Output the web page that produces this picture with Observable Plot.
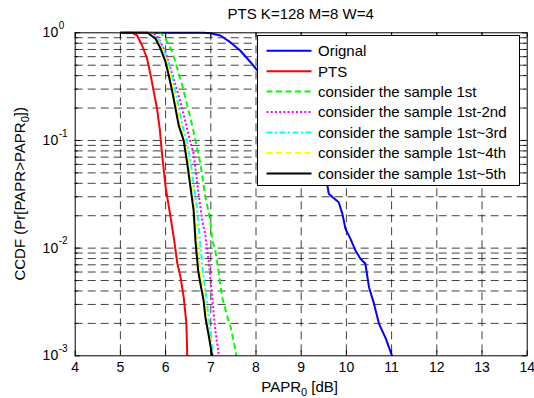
<!DOCTYPE html>
<html>
<head>
<meta charset="utf-8">
<script src="https://cdn.jsdelivr.net/npm/d3@7"></script>
<script src="https://cdn.jsdelivr.net/npm/@observablehq/plot@0.6"></script>
<style>
  html, body { margin: 0; padding: 0; background: #fff; }
  #chart { width: 534px; height: 398px; }
</style>
</head>
<body>
<div id="chart"></div>
<script>
// ---- data ----
const titleText = "PTS K=128 M=8 W=4";
const xTicks = [4, 5, 6, 7, 8, 9, 10, 11, 12, 13, 14];
const xGrid = [5, 6, 7, 8, 9, 10, 11, 12, 13];
const yMajor = [0.001, 0.01, 0.1, 1];
const yExponents = ["-3", "-2", "-1", "0"];
const yMinor = [0.002,0.003,0.004,0.005,0.006,0.007,0.008,0.009,
                0.02,0.03,0.04,0.05,0.06,0.07,0.08,0.09,
                0.2,0.3,0.4,0.5,0.6,0.7,0.8,0.9];

const seriesNames = ["Orignal", "PTS", "consider the sample 1st", "consider the sample 1st-2nd",
  "consider the sample 1st~3rd", "consider the sample 1st~4th", "consider the sample 1st~5th"];
const seriesColors = ["#0000ff", "#ff0000", "#00ff00", "#ff00ff", "#00ffff", "#ffff00", "#000000"];
const seriesDash = [null, null, "6,3.5", "2,2.2", "6,2.5,2,2.5", "6,3.5", null];

const origX = [5, 6.84, 6.99, 7.21, 7.43, 7.65, 7.88, 8.03, 8.35, 8.75, 9.2, 9.58, 9.61, 9.69, 9.83, 9.91, 9.98, 10.09, 10.20, 10.31, 10.42, 10.50, 10.61, 10.72, 10.87, 11.01];
const origY = [1, 1, 0.989, 0.944, 0.818, 0.685, 0.533, 0.447, 0.3, 0.17, 0.08, 0.0382, 0.032, 0.0298, 0.0267, 0.0209, 0.0151, 0.0122, 0.00952, 0.00798, 0.00716, 0.00434, 0.00305, 0.00199, 0.00145, 0.001];

const ptsX = [5, 5.26, 5.37, 5.48, 5.59, 5.67, 5.74, 5.81, 5.87, 5.92, 6.00, 6.11, 6.19, 6.26, 6.33, 6.40, 6.46, 6.48];
const ptsY = [1, 1, 0.944, 0.762, 0.577, 0.402, 0.281, 0.198, 0.129, 0.0757, 0.0368, 0.0194, 0.0118, 0.0072, 0.00538, 0.00351, 0.002, 0.001];

const s1X = [5, 5.89, 6.00, 6.15, 6.26, 6.37, 6.48, 6.59, 6.66, 6.77, 6.88, 6.99, 7.03, 7.10, 7.18, 7.25, 7.39, 7.44, 7.57];
const s1Y = [1, 1, 0.88, 0.661, 0.463, 0.324, 0.211, 0.138, 0.1, 0.0608, 0.0298, 0.0181, 0.0118, 0.00952, 0.00578, 0.00351, 0.00213, 0.00185, 0.001];

const s2X = [5, 5.67, 5.81, 6.00, 6.11, 6.22, 6.33, 6.44, 6.51, 6.62, 6.71, 6.81, 6.88, 6.96, 7.03, 7.10, 7.18];
const s2Y = [1, 1, 0.944, 0.661, 0.463, 0.324, 0.227, 0.148, 0.111, 0.0753, 0.0368, 0.0181, 0.0131, 0.0072, 0.00351, 0.00172, 0.001];

const sY = [1, 1, 0.88, 0.71, 0.533, 0.401, 0.281, 0.197, 0.138, 0.1, 0.0608, 0.0368, 0.0224, 0.0118, 0.0062, 0.00467, 0.00327, 0.00229, 0.00149, 0.001];
const s3X = [5, 5.63, 5.83, 5.95, 6.06, 6.14, 6.22, 6.30, 6.37, 6.47, 6.56, 6.63, 6.70, 6.76, 6.82, 6.86, 6.91, 6.95, 7.00, 7.05];
const s4X = [5, 5.61, 5.80, 5.92, 6.03, 6.10, 6.18, 6.25, 6.32, 6.43, 6.51, 6.58, 6.65, 6.70, 6.76, 6.81, 6.87, 6.91, 6.98, 7.03];
const s5X = [5, 5.60, 5.78, 5.89, 6.00, 6.07, 6.15, 6.22, 6.29, 6.40, 6.48, 6.55, 6.62, 6.66, 6.72, 6.77, 6.84, 6.88, 6.96, 7.03];

const seriesX = [origX, ptsX, s1X, s2X, s3X, s4X, s5X];
const seriesY = [origY, ptsY, s1Y, s2Y, sY, sY, sY];

// ---- layout ----
const W = 534, H = 398;
const mL = 74.7, mR = 7.3, mT = 32.3, mB = 42.7;
const innerW = W - mL - mR, innerH = H - mT - mB;
const FONT = "'Liberation Sans', Arial, Helvetica, sans-serif";

const lineMarks = seriesX.map((xs, i) =>
  Plot.line(xs.map((x, j) => ({x, y: seriesY[i][j]})), {
    x: "x", y: "y", stroke: seriesColors[i], strokeWidth: 2,
    strokeDasharray: seriesDash[i] || undefined, strokeLinejoin: "round", strokeLinecap: "butt"
  })
);

const gridStyle = {stroke: "#000", strokeWidth: 1, strokeOpacity: 0.75, strokeDasharray: "8,5"};

const chart = Plot.plot({
  width: W, height: H,
  marginLeft: mL, marginRight: mR, marginTop: mT, marginBottom: mB,
  style: {fontFamily: FONT, background: "#fff", overflow: "visible"},
  x: {domain: [4, 14]},
  y: {type: "log", domain: [0.001, 1]},
  axis: null,
  marks: [
    Plot.ruleX(xGrid, {x: d => d, ...gridStyle}),
    Plot.ruleY(yMinor.concat([0.01, 0.1]), {y: d => d, ...gridStyle}),
    ...lineMarks,
    Plot.frame({stroke: "#000", strokeWidth: 1}),
    // inward ticks, all four sides
    Plot.ruleX(xTicks, {x: d => d, insetTop: innerH - 5, stroke: "#000"}),
    Plot.ruleX(xTicks, {x: d => d, insetBottom: innerH - 5, stroke: "#000"}),
    Plot.ruleY(yMajor, {y: d => d, insetRight: innerW - 5, stroke: "#000"}),
    Plot.ruleY(yMajor, {y: d => d, insetLeft: innerW - 5, stroke: "#000"}),
    Plot.ruleY(yMinor, {y: d => d, insetRight: innerW - 3, stroke: "#000"}),
    Plot.ruleY(yMinor, {y: d => d, insetLeft: innerW - 3, stroke: "#000"}),
    // tick labels
    Plot.text(xTicks, {x: d => d, text: d => String(d), frameAnchor: "bottom", dy: 12,
      fontSize: 14, fill: "#000", lineAnchor: "middle"}),
    Plot.text(yMajor, {y: d => d, text: () => "10", frameAnchor: "left", dx: -17,
      textAnchor: "end", fontSize: 14, fill: "#000", lineAnchor: "middle"}),
    Plot.text(yMajor, {y: d => d, text: (d, i) => yExponents[i], frameAnchor: "left", dx: -16.5, dy: -7,
      textAnchor: "start", fontSize: 10, fill: "#000", lineAnchor: "middle"})
  ]
});

document.getElementById("chart").appendChild(chart);

// ---- title, axis labels and legend (text with sub/superscripts) ----
const svg = d3.select(chart);
const cx = mL + innerW / 2;

svg.append("text").attr("x", cx).attr("y", 19).attr("text-anchor", "middle")
  .attr("font-family", FONT).attr("font-size", 15).attr("fill", "#000").text(titleText);

const xl = svg.append("text").attr("x", cx - 1).attr("y", 392).attr("text-anchor", "middle")
  .attr("font-family", FONT).attr("font-size", 15).attr("fill", "#000");
xl.append("tspan").text("PAPR");
xl.append("tspan").attr("font-size", 11).attr("dy", 4).text("0");
xl.append("tspan").attr("dy", -4).text(" [dB]");

const yl = svg.append("text").attr("transform", `translate(25,${mT + innerH / 2}) rotate(-90)`)
  .attr("text-anchor", "middle").attr("font-family", FONT).attr("font-size", 15).attr("fill", "#000");
yl.append("tspan").text("CCDF (Pr[PAPR>PAPR");
yl.append("tspan").attr("font-size", 11).attr("dy", 4).text("0");
yl.append("tspan").attr("dy", -4).text("])");

// legend
const lg = svg.append("g").attr("text-anchor", "start");
lg.append("rect").attr("x", 257.5).attr("y", 35.5).attr("width", 262).attr("height", 150)
  .attr("fill", "#fff").attr("stroke", "#000").attr("stroke-width", 1);
seriesNames.forEach((name, i) => {
  const y = 50.7 + i * 20.45;
  lg.append("line").attr("x1", 266.5).attr("x2", 311.5).attr("y1", y).attr("y2", y)
    .attr("stroke", seriesColors[i]).attr("stroke-width", 2)
    .attr("stroke-dasharray", seriesDash[i]);
  lg.append("text").attr("x", 318).attr("y", y).attr("dy", "0.36em").attr("text-anchor", "start")
    .attr("font-family", FONT).attr("font-size", 15).attr("fill", "#000").text(name);
});
</script>
</body>
</html>
